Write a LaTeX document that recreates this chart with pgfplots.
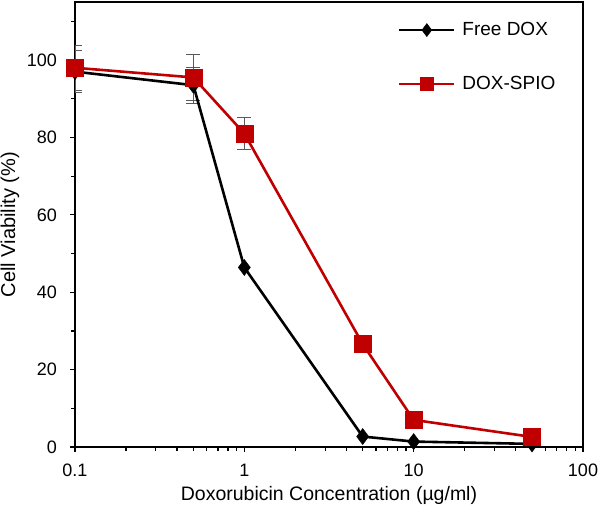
\documentclass[border=0pt]{standalone}
\usepackage{fontspec}
\setmainfont{Liberation Sans}
\usepackage{pgfplots}
\pgfplotsset{compat=1.18}
\definecolor{dred}{RGB}{192,0,0}
\begin{document}
\begin{tikzpicture}
\path[use as bounding box] (-75pt,-58pt) rectangle (525pt,447pt);
\begin{axis}[
  scale only axis, width=508pt, height=445pt,
  xmode=log, xmin=0.1, xmax=100, ymin=0, ymax=115,
  xtick={0.1,1,10,100}, xticklabels={0.1,1,10,100},
  minor xtick={0.2,0.3,0.4,0.5,0.6,0.7,0.8,0.9,2,3,4,5,6,7,8,9,20,30,40,50,60,70,80,90},
  ytick={0,20,40,60,80,100}, minor ytick={10,30,50,70,90,110},
  tick align=outside, xtick pos=left, ytick pos=left,
  major tick length=5pt, minor tick length=4pt,
  every tick/.style={black, line width=1.2pt},
  axis line style={line width=1.8pt},
  /pgf/number format/assume math mode=true,
  tick label style={font=\fontsize{18}{20}\selectfont},
  yticklabel style={inner sep=0pt, anchor=east, xshift=-13pt},
  xticklabel style={inner sep=0pt, anchor=north, yshift=-12pt},
  xlabel={Doxorubicin Concentration (µg/ml)},
  ylabel={Cell Viability (\%)},
  xlabel style={font=\fontsize{19.5}{22}\selectfont, at={(axis description cs:0.5,0)}, anchor=base, yshift=-54pt, inner sep=0pt},
  ylabel style={font=\fontsize{20}{22}\selectfont, at={(axis description cs:-0.128,0.5)}, anchor=center, inner sep=0pt},
  legend style={draw=none, fill=none, at={(axis description cs:0.630,0.962)}, anchor=north west,
     font=\fontsize{19}{21}\selectfont, row sep=36pt, column sep=0pt,
     nodes={inner sep=0pt, text height=14pt, text depth=4pt}},
  legend cell align=left,
  legend image code/.code={\draw[#1, line width=2.2pt, mark size=6.5pt] plot coordinates {(0pt,0pt) (27.5pt,0pt) (55pt,0pt)};},
  legend image post style={mark repeat=2, mark phase=2},
]
% error bars (behind)
\addplot[only marks, mark=none, forget plot,
  error bars/.cd, y dir=both, y explicit,
  error bar style={draw=black!65, line width=0.9pt},
  error mark options={rotate=90, mark size=7pt, line width=0.9pt, draw=black!65}]
  coordinates {(0.1,97) +- (0,5.5) (0.5,93.5) +- (0,4.7)};
\addplot[only marks, mark=none, forget plot,
  error bars/.cd, y dir=both, y explicit,
  error bar style={draw=black!65, line width=0.9pt},
  error mark options={rotate=90, mark size=7pt, line width=0.9pt, draw=black!65}]
  coordinates {(0.1,98) +- (0,5.8) (0.5,95.5) +- (0,6.0) (1,81) +- (0,4.2)};
% Free DOX
\addplot[black, line width=2.6pt, mark=diamond*, mark size=8pt, mark options={solid, fill=black, line width=0.5pt}]
  coordinates {(0.1,97) (0.5,93.5) (1,46.4) (5,2.7) (10,1.4) (50,0.8)};
\addlegendentry{\hspace*{7pt}Free DOX}
% DOX-SPIO
\addplot[dred, line width=2.6pt, mark=square*, mark size=8.5pt, mark options={solid, fill=dred, line width=0.5pt}]
  coordinates {(0.1,98) (0.5,95.5) (1,81) (5,26.6) (10,7.0) (50,2.6)};
\addlegendentry{\hspace*{7pt}DOX-SPIO}
\end{axis}
\end{tikzpicture}
\end{document}
